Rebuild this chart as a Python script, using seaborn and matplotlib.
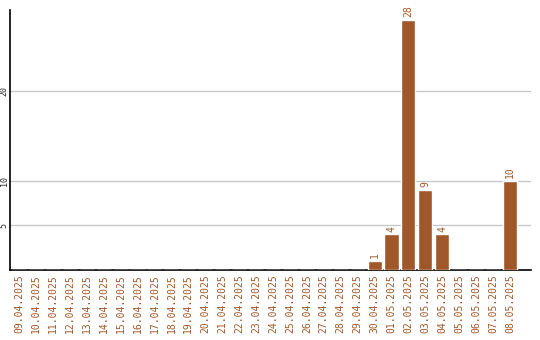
import matplotlib
matplotlib.use("Agg")
import matplotlib.pyplot as plt
import seaborn as sns
import pandas as pd

dates = ["09.04.2025", "10.04.2025", "11.04.2025", "12.04.2025", "13.04.2025",
         "14.04.2025", "15.04.2025", "16.04.2025", "17.04.2025", "18.04.2025",
         "19.04.2025", "20.04.2025", "21.04.2025", "22.04.2025", "23.04.2025",
         "24.04.2025", "25.04.2025", "26.04.2025", "27.04.2025", "28.04.2025",
         "29.04.2025", "30.04.2025", "01.05.2025", "02.05.2025", "03.05.2025",
         "04.05.2025", "05.05.2025", "06.05.2025", "07.05.2025", "08.05.2025"]
counts = [0, 0, 0, 0, 0, 0, 0, 0, 0, 0,
          0, 0, 0, 0, 0, 0, 0, 0, 0, 0,
          0, 1, 4, 28, 9, 4, 0, 0, 0, 10]
yticks = [5, 10, 20]

df = pd.DataFrame({"date": dates, "count": counts})
color = "#A0582A"

sns.set_style("white")
plt.rcParams["font.family"] = ["DejaVu Sans Mono"]

fig = plt.figure(figsize=(5.4, 3.4), dpi=100)
ax = fig.add_axes([10 / 540, 1 - 270 / 340, 521 / 540, 260 / 340])

sns.barplot(data=df, x="date", y="count", color=color, width=0.83,
            saturation=1, ax=ax, zorder=3)

for p, v in zip(ax.patches, counts):
    if v > 0:
        ax.text(p.get_x() + p.get_width() / 2, p.get_height() + 0.3, str(v),
                rotation=90, ha="center", va="bottom", color=color, fontsize=7)

ax.set_xlim(-0.53, 30.24)
ax.set_ylim(0, 29.1)
ax.set_yticks(yticks)
ax.set_yticklabels([str(t) for t in yticks], rotation=90, va="center", fontsize=6)
ax.tick_params(axis="y", length=0, pad=1)
ax.tick_params(axis="x", length=0, pad=3, labelsize=7, labelcolor=color, rotation=90)
ax.yaxis.grid(True, color="#c8c8c8", linewidth=1, zorder=0)
ax.set_axisbelow(True)
ax.set_xlabel("")
ax.set_ylabel("")
for s in ["top", "right"]:
    ax.spines[s].set_visible(False)
for s in ["left", "bottom"]:
    ax.spines[s].set_color("black")
    ax.spines[s].set_linewidth(1.2)

fig.savefig("out.png", dpi=100)
